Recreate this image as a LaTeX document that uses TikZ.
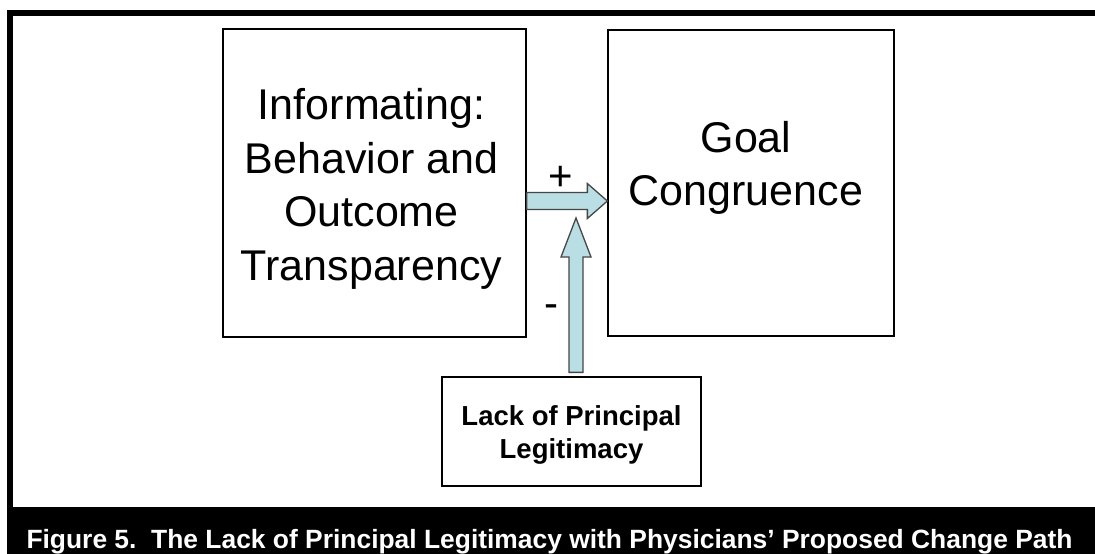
\documentclass[tikz,border=0pt]{standalone}
\usepackage{fontspec}
\setmainfont{Liberation Sans}
\usetikzlibrary{calc}
\definecolor{arrowfill}{RGB}{185,222,227}
\definecolor{arrowline}{RGB}{70,70,70}
\begin{document}
\begin{tikzpicture}[x=1pt,y=-1pt,
  box/.style={draw=black,line width=1.3pt,inner sep=0pt},
  bigtext/.style={font=\fontsize{43}{53.5}\selectfont,align=center,inner sep=0pt},
  smalltext/.style={font=\bfseries\fontsize{27.5}{33}\selectfont,align=center,inner sep=0pt},
  signtext/.style={font=\fontsize{42}{44}\selectfont,inner sep=0pt,anchor=base},
  blockarrow/.style={fill=arrowfill,draw=arrowline,line width=1.3pt,line join=miter}]
\useasboundingbox (0,0) rectangle (1095,554);
% frame
\fill[black] (7,10) rectangle (1095,554);
\fill[white] (13,16) rectangle (1095,507);
% boxes
\node[box,minimum width=303pt,minimum height=308pt] (inf) at (374.5,183) {};
\node[box,minimum width=286pt,minimum height=306pt] (goal) at (751,183) {};
\node[box,minimum width=259pt,minimum height=109pt] (lack) at (571.5,431.5) {};
% texts
\node[bigtext] (inftext) at ($(inf.center)+(-3,6)$) {Informating:\\Behavior and\\Outcome\\Transparency};
\node[bigtext] (goaltext) at ($(goal.center)+(-5,-15)$) {Goal\\Congruence};
\node[smalltext] (lacktext) at ($(lack.center)+(0,3)$) {Lack of Principal\\Legitimacy};
% arrows
\coordinate (ha) at ($(inf.east)+(0,18)$);
\coordinate (hb) at ($(goal.west)+(0,18)$);
\draw[blockarrow] ($(ha)+(0,-8.5)$) -- ($(hb)+(-20,-8.5)$) -- ($(hb)+(-20,-17.5)$) -- (hb)
  -- ($(hb)+(-20,17.5)$) -- ($(hb)+(-20,8.5)$) -- ($(ha)+(0,8.5)$) -- cycle;
\coordinate (va) at ($(lack.north)+(4.5,-4)$);
\coordinate (vb) at ($(va |- ha)+(0,17)$);
\draw[blockarrow] ($(va)+(-7,0)$) -- ($(vb)+(-7,39)$) -- ($(vb)+(-15,39)$) -- (vb)
  -- ($(vb)+(15,39)$) -- ($(vb)+(7,39)$) -- ($(va)+(7,0)$) -- cycle;
% signs
\node[signtext] (plus) at (561,190) {+};
\node[signtext] (minus) at (551.5,317) {-};
% caption
\node[font=\bfseries\fontsize{26.4}{30}\selectfont,text=white,anchor=base,inner sep=0pt] (caption) at (549.5,548)
  {Figure 5.\ \ The Lack of Principal Legitimacy with Physicians’ Proposed Change Path};
\end{tikzpicture}
\end{document}
